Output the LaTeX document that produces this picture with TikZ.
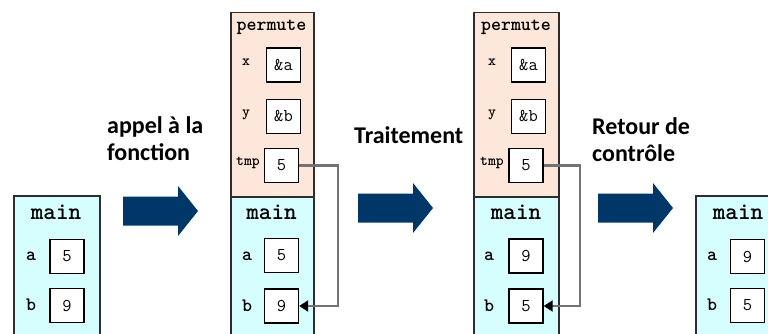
\documentclass[tikz,border=0pt]{standalone}
\usepackage{fontspec}
\usetikzlibrary{arrows.meta}
\newfontfamily\capfont{Carlito}
\definecolor{permfill}{RGB}{253,230,218}
\definecolor{mainfill}{RGB}{214,254,254}
\definecolor{flow}{RGB}{0,55,105}
\definecolor{link}{RGB}{115,115,115}
\definecolor{edge}{RGB}{45,45,45}

\tikzset{
  frame/.style={draw=edge, line width=1.5pt, anchor=north west, inner sep=0pt},
  permframe/.style={frame, fill=permfill},
  mainframe/.style={frame, fill=mainfill},
  cell/.style={draw=black, fill=white, line width=1.4pt, minimum width=34pt,
    minimum height=34pt, inner sep=0pt, font=\ttfamily\fontsize{18}{18}\selectfont},
  title/.style={inner sep=0pt, font=\ttfamily\bfseries\fontsize{24}{24}\selectfont},
  ptitle/.style={inner sep=0pt, font=\ttfamily\bfseries\fontsize{19}{19}\selectfont},
  var/.style={inner sep=0pt, font=\ttfamily\bfseries\fontsize{19}{19}\selectfont},
  smallvar/.style={inner sep=0pt, font=\ttfamily\bfseries\fontsize{15}{15}\selectfont},
  caption/.style={inner sep=0pt, anchor=north west, align=left,
    font=\capfont\bfseries\fontsize{24}{27}\selectfont},
  link/.style={draw=link, line width=2.6pt, -{Triangle[length=9pt,width=11pt,color=black]}},
  blockarrow/.pic={\fill[flow] (0,-14.5) -- (55,-14.5) -- (55,-25) -- (75,0)
    -- (55,25) -- (55,14.5) -- (0,14.5) -- cycle;}
}

\begin{document}
\begin{tikzpicture}[x=1pt,y=-1pt]
\useasboundingbox (0,0) rectangle (768,334);
\clip (0,0) rectangle (768,334);

% ---- state before the call
\node[mainframe, minimum width=86pt, minimum height=150pt] (f0) at (13,195) {};
\node[title] (f0t) at (56,212) {main};
\node[var] (f0la) at (31,256) {a};
\node[cell] (f0a) at (67,256.5) {5};
\node[var] (f0lb) at (31,305) {b};
\node[cell] (f0b) at (67,305.5) {9};

% ---- stack during the call
\node[permframe, minimum width=83pt, minimum height=184pt] (p1) at (230,12) {};
\node[mainframe, minimum width=83pt, minimum height=150pt] (m1) at (230,196) {};
\node[ptitle] (p1t) at (271.5,27) {permute};
\node[smallvar] (p1lx) at (246,62) {x};
\node[cell] (p1x) at (283.5,65) {\&a};
\node[smallvar] (p1ly) at (246,115) {y};
\node[cell] (p1y) at (283.5,116.5) {\&b};
\node[smallvar] (p1lt) at (248,163) {tmp};
\node[cell] (p1tmp) at (281.5,165.5) {5};
\node[title] (m1t) at (271.5,212) {main};
\node[var] (m1la) at (247,256) {a};
\node[cell] (m1a) at (281.5,255.5) {5};
\node[var] (m1lb) at (247,306) {b};
\node[cell] (m1b) at (281.5,306) {9};
\coordinate (k1) at (338,0);
\draw[link] (p1tmp.east) -- (p1tmp.east -| k1) |- (m1b.east);

% ---- stack after the swap
\node[permframe, minimum width=85pt, minimum height=184pt] (p2) at (473,12) {};
\node[mainframe, minimum width=85pt, minimum height=150pt] (m2) at (473,196) {};
\node[ptitle] (p2t) at (516,27) {permute};
\node[smallvar] (p2lx) at (492,62) {x};
\node[cell] (p2x) at (528.5,65) {\&a};
\node[smallvar] (p2ly) at (492,115) {y};
\node[cell] (p2y) at (528.5,116.5) {\&b};
\node[smallvar] (p2lt) at (492,163) {tmp};
\node[cell] (p2tmp) at (526,165.5) {5};
\node[title] (m2t) at (516,212) {main};
\node[var] (m2la) at (489,256) {a};
\node[cell] (m2a) at (526,256) {9};
\node[var] (m2lb) at (489,306) {b};
\node[cell] (m2b) at (526,306) {5};
\coordinate (k2) at (580,0);
\draw[link] (p2tmp.east) -- (p2tmp.east -| k2) |- (m2b.east);

% ---- state after the return
\node[mainframe, minimum width=86pt, minimum height=150pt] (f3) at (695,195) {};
\node[title] (f3t) at (738,212) {main};
\node[var] (f3la) at (712,256) {a};
\node[cell] (f3a) at (747.5,256.5) {9};
\node[var] (f3lb) at (712,305) {b};
\node[cell] (f3b) at (747.5,305.5) {5};

% ---- steps
\pic at (123,211) {blockarrow};
\pic at (358,208) {blockarrow};
\pic at (598,208) {blockarrow};
\node[caption] (s1) at (107,116) {appel à la\\fonction};
\node[caption] (s2) at (354,126) {Traitement};
\node[caption] (s3) at (592,117) {Retour de\\contrôle};
\end{tikzpicture}
\end{document}
